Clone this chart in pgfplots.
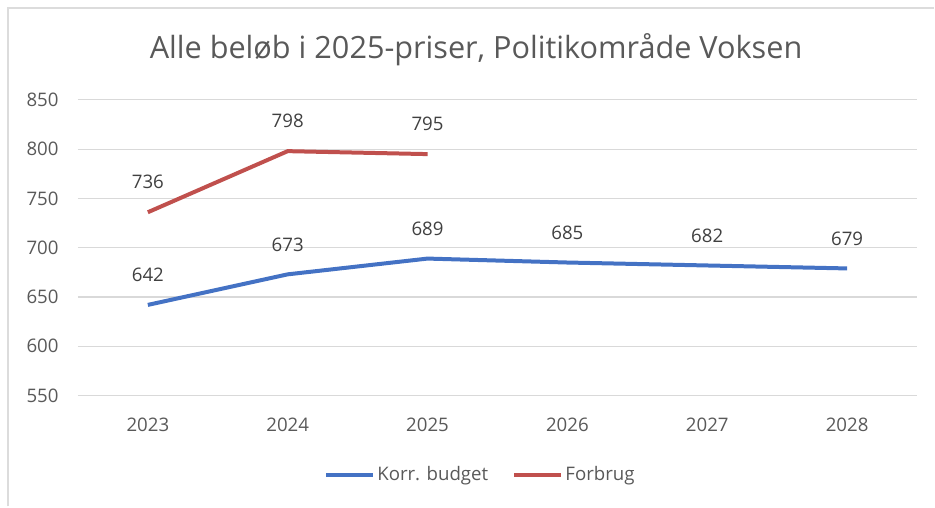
\documentclass[border=0pt]{standalone}
\usepackage{pgfplots}
\pgfplotsset{compat=1.18}
\usepackage{fontspec}
\setmainfont{Open Sans}
\definecolor{blueline}{RGB}{68,114,196}
\definecolor{redline}{RGB}{192,80,77}
\definecolor{gridc}{RGB}{217,217,217}
\definecolor{txt}{RGB}{89,89,89}
\definecolor{lbl}{RGB}{64,64,64}
\definecolor{framec}{RGB}{220,220,220}
\begin{document}
\begin{tikzpicture}
\path (0,0) rectangle (701.25pt,380.25pt);
\draw[framec, line width=1.5pt] (6pt,0) -- (6pt,374.25pt) -- (701.25pt,374.25pt);
\node[text=txt, font=\fontsize{23}{27}\selectfont] at (357.4pt,343pt) {Alle beløb i 2025-priser, Politikområde Voksen};
\begin{axis}[
  at={(58.5pt,83.25pt)}, anchor=south west,
  scale only axis, width=630pt, height=222pt,
  xmin=-0.5, xmax=5.5, ymin=550, ymax=850,
  xtick={0,1,2,3,4,5},
  xticklabels={2023,2024,2025,2026,2027,2028},
  ytick={550,600,650,700,750,800,850},
  axis line style={draw=none},
  major tick length=0pt,
  ymajorgrids, grid style={gridc, line width=0.8pt},
  tick label style={text=txt, font=\fontsize{14}{17}\selectfont},
  /pgf/number format/assume math mode=true,
  /pgf/number format/1000 sep={},
  xticklabel style={anchor=center, yshift=-22pt},
  yticklabel style={anchor=east, xshift=-11pt},
  clip=false,
  nodes near coords,
  every node near coord/.append style={anchor=center, yshift=22.5pt, text=lbl, font=\fontsize{14}{17}\selectfont},
  legend columns=2,
  legend style={at={(0.48,-0.267)}, anchor=center, draw=none, fill=none,
    font=\fontsize{14}{17}\selectfont, text=txt,
    /tikz/every even column/.append style={column sep=16pt},
    /tikz/every odd column/.append style={}},
  legend image code/.code={\draw[#1, line width=3pt] (0pt,0pt) -- (35pt,0pt);},
]
\addplot[blueline, line width=3pt] coordinates {(0,642) (1,673) (2,689) (3,685) (4,682) (5,679)};
\addlegendentry{Korr. budget}
\addplot[redline, line width=3pt] coordinates {(0,736) (1,798) (2,795)};
\addlegendentry{Forbrug}
\end{axis}
\end{tikzpicture}
\end{document}
